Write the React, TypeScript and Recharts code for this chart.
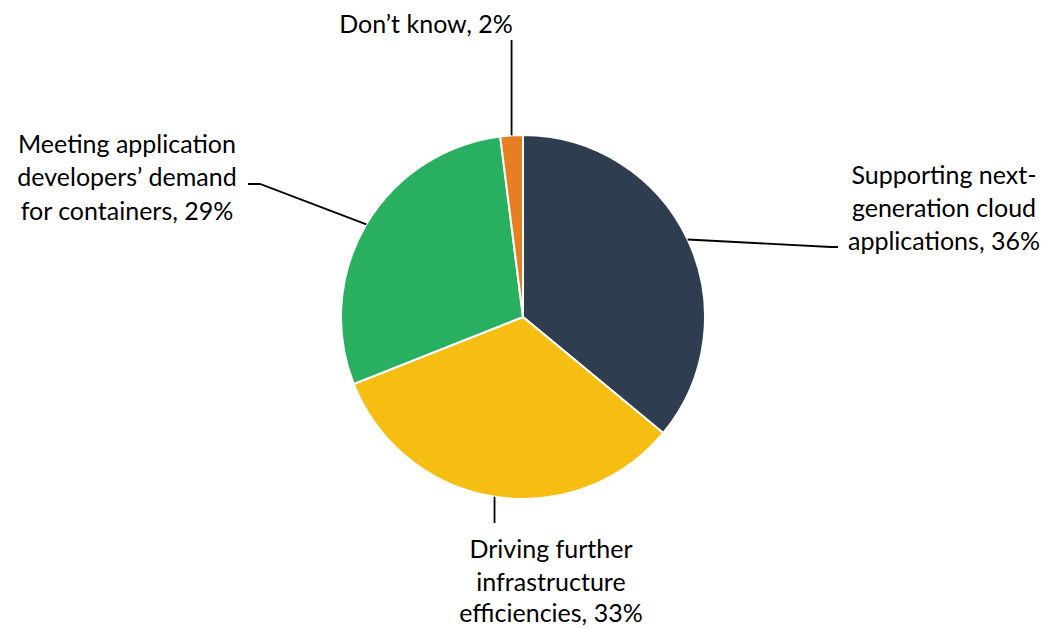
import { PieChart, Pie, Cell } from 'recharts'

const categories = [
  'Supporting next-generation cloud applications',
  'Driving further infrastructure efficiencies',
  'Meeting application developers’ demand for containers',
  'Don’t know',
]
const shares = [36, 33, 29, 2]
const labelLines = [
  ['Supporting next-', 'generation cloud', 'applications, 36%'],
  ['Driving further', 'infrastructure', 'efficiencies, 33%'],
  ['Meeting application', 'developers’ demand', 'for containers, 29%'],
  ['Don’t know, 2%'],
]
const colors = ['#2E3E50', '#F6BE12', '#28AF60', '#E67E22']

// label placement, relative to the pie centre
const labelLayout = [
  { elbow: [308, -70], end: [315, -70], textX: 421, baselines: [-133, -100, -67] },
  { elbow: null, end: [null, 206], textX: 28, baselines: [241, 274, 305] },
  { elbow: [-263, -133], end: [-275, -133], textX: -396, baselines: [-164, -131, -97] },
  { elbow: null, end: [null, -277], textX: -97, baselines: [-284] },
]

const data = categories.map((name, i) => ({ name, value: shares[i] }))

const RAD = Math.PI / 180

function renderLabel(props: any) {
  const { cx, cy, midAngle, outerRadius, index } = props
  const sx = cx + outerRadius * Math.cos(-midAngle * RAD)
  const sy = cy + outerRadius * Math.sin(-midAngle * RAD)
  const L = labelLayout[index]
  const pts: number[][] = [[sx, sy]]
  if (L.elbow) pts.push([cx + L.elbow[0], cy + L.elbow[1]])
  const ex = L.end[0] === null ? sx : cx + (L.end[0] as number)
  pts.push([ex, cy + (L.end[1] as number)])
  return (
    <g>
      <polyline points={pts.map((p) => p.join(',')).join(' ')} fill="none" stroke="#000" strokeWidth={1.8} />
      {labelLines[index].map((line, j) => (
        <text
          key={j}
          x={cx + L.textX}
          y={cy + L.baselines[j]}
          textAnchor="middle"
          fontSize={25}
          fontFamily="Lato, 'Open Sans', sans-serif"
          fill="#000"
        >
          {line}
        </text>
      ))}
    </g>
  )
}

export default function App() {
  return (
    <div style={{ position: 'absolute', left: 0, top: 0, width: 1044, height: 628, background: '#fff' }}>
      <PieChart width={1044} height={628} margin={{ top: 0, right: 0, bottom: 0, left: 0 }}>
        <Pie
          data={data}
          dataKey="value"
          nameKey="name"
          cx={523}
          cy={317}
          outerRadius={182}
          startAngle={90}
          endAngle={-270}
          stroke="#fff"
          strokeWidth={2}
          label={renderLabel}
          labelLine={false}
          isAnimationActive={false}
        >
          {data.map((d, i) => (
            <Cell key={d.name} fill={colors[i]} />
          ))}
        </Pie>
      </PieChart>
    </div>
  )
}
